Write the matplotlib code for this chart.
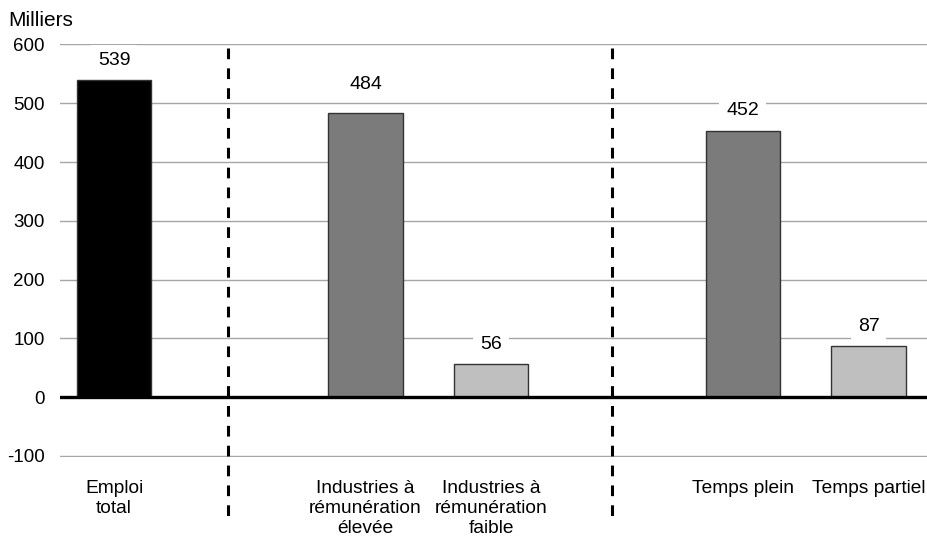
import matplotlib.pyplot as plt

plt.rcParams['font.family'] = ['Liberation Sans', 'DejaVu Sans']
plt.rcParams['axes.unicode_minus'] = False

# Employment change, thousands
categories = ['Emploi\ntotal',
              'Industries à\nrémunération\nélevée',
              'Industries à\nrémunération\nfaible',
              'Temps plein',
              'Temps partiel']
values = [539, 484, 56, 452, 87]
colors = ['#000000', '#7b7b7b', '#bfbfbf', '#7b7b7b', '#bfbfbf']
positions = [0, 2, 3, 5, 6]
label_offsets = [20, 28, 20, 21, 19]   # px above the bar top
separators = [0.905, 3.96]

fig = plt.figure(figsize=(9.27, 5.38), dpi=100)
ax = fig.add_axes([0.0647, 0.151, 0.9353, 0.7663])

ax.bar(positions, values, width=0.59, color=colors,
       edgecolor='#333333', linewidth=1.0, zorder=3)

ax.set_ylim(-101.5, 600)
ax.set_xlim(-0.43, 6.465)
ax.set_yticks(range(-100, 601, 100))
ax.yaxis.grid(True, color='#a6a6a6', linewidth=1.0, zorder=0)
ax.axhline(0, color='black', linewidth=2.4, zorder=4)

for s in ax.spines.values():
    s.set_visible(False)
ax.tick_params(axis='both', length=0, labelsize=13.5)
ax.tick_params(axis='y', pad=11)
ax.tick_params(axis='x', pad=17, labelsize=13.8)
ax.set_xticks(positions)
ax.set_xticklabels(categories, linespacing=1.22)

# value labels with white box so gridlines stop around them
for x, v, off in zip(positions, values, label_offsets):
    ax.annotate(str(v), (x, v), xytext=(0, off * 0.72), textcoords='offset points',
                ha='center', va='center', fontsize=14, zorder=5,
                bbox=dict(facecolor='white', edgecolor='none', pad=5))

# dashed separators between the groups
for sx in separators:
    ax.plot([sx, sx], [594, -205], color='black', linewidth=2.2,
            linestyle=(0, (3.5, 3)), clip_on=False, zorder=6)

fig.text(8 / 927, 1 - 21 / 538, 'Milliers', fontsize=15, ha='left', va='center')

fig.savefig('out.png', dpi=100)
